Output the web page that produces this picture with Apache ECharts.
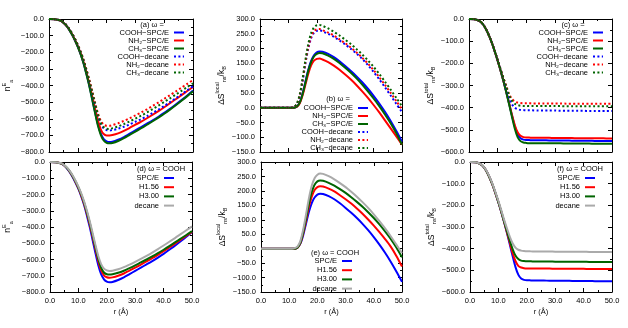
<!DOCTYPE html>
<html>
<head>
<meta charset="utf-8">
<script src="https://cdn.jsdelivr.net/npm/echarts@6/dist/echarts.min.js"></script>
<style>
html, body { margin: 0; padding: 0; background: #fff; }
#chart { width: 628px; height: 328px; }
</style>
</head>
<body>
<div id="chart"></div>
<script>
// r (Å) sample points shared by every curve
var R = [0, 2, 4, 5, 6, 7, 8, 9, 10, 11, 12, 13, 14, 15, 16, 17, 18, 19, 20, 21, 22,
  24, 26, 28, 30, 32, 34, 36, 38, 40, 42, 44, 46, 48, 50];

// n^E_a  (panels a, d)
var nE_COOH_spce = [0, -1, -10, -22, -40, -64, -94, -128, -166, -212, -265, -330, -400, -480, -560, -635, -690, -722, -736, -740, -738,
  -726, -710, -690, -670, -650, -630, -610, -588, -565, -540, -515, -488, -460, -430];
var nE_NH2_spce = [0, -1, -10, -22, -40, -63, -92, -126, -164, -208, -260, -322, -390, -465, -540, -610, -665, -692, -700, -700, -698,
  -688, -673, -655, -636, -617, -597, -576, -554, -531, -507, -483, -458, -433, -408];
var nE_CH3_spce = [0, -1, -10, -22, -40, -64, -94, -128, -167, -213, -267, -333, -404, -485, -566, -642, -698, -731, -745, -748, -746,
  -734, -717, -697, -677, -657, -636, -615, -593, -570, -545, -519, -492, -464, -434];
var nE_COOH_dec = [0, -1, -9, -20, -37, -59, -87, -120, -158, -200, -250, -310, -375, -445, -515, -580, -630, -658, -668, -670, -668,
  -660, -648, -634, -618, -602, -584, -565, -545, -523, -500, -477, -453, -429, -405];
var nE_NH2_dec = [0, -1, -9, -20, -37, -59, -86, -118, -155, -196, -245, -303, -366, -434, -503, -568, -613, -635, -642, -642, -638,
  -627, -613, -597, -580, -562, -543, -523, -502, -480, -458, -436, -413, -390, -367];
var nE_CH3_dec = [0, -1, -9, -20, -37, -59, -87, -119, -157, -198, -248, -307, -371, -440, -510, -576, -626, -651, -660, -661, -657,
  -646, -632, -616, -599, -581, -562, -542, -521, -499, -477, -455, -432, -409, -387];
var nE_H156 = [0, -1, -9, -21, -38, -61, -90, -123, -161, -205, -257, -318, -385, -460, -537, -610, -666, -697, -709, -712, -710,
  -700, -686, -668, -650, -631, -612, -592, -571, -549, -526, -502, -478, -454, -430];
var nE_H300 = [0, -1, -9, -20, -37, -59, -87, -120, -157, -200, -250, -310, -376, -450, -525, -596, -650, -680, -691, -693, -691,
  -682, -669, -653, -636, -618, -600, -581, -561, -540, -518, -495, -472, -449, -425];
var nE_dec = [0, -1, -8, -19, -35, -56, -83, -115, -151, -193, -242, -300, -365, -437, -510, -578, -628, -656, -667, -670, -669,
  -660, -647, -631, -614, -596, -577, -557, -536, -514, -491, -468, -444, -420, -396];

// ΔS^local_ns / k_B  (panels b, e)
var sL_COOH_spce = [0, 0, 0, 0, 0, 0, 0, 0, 0, 0, 0, 4, 18, 48, 88, 128, 158, 177, 187, 190, 189,
  182, 171, 157, 141, 124, 106, 86, 64, 40, 14, -14, -45, -79, -115];
var sL_NH2_spce = [0, 0, 0, 0, 0, 0, 0, 0, 0, 0, 0, 3, 15, 42, 78, 115, 143, 159, 165, 166, 163,
  154, 142, 128, 112, 95, 76, 55, 33, 9, -16, -43, -70, -97, -125];
var sL_CH3_spce = [0, 0, 0, 0, 0, 0, 0, 0, 0, 0, 0, 4, 17, 46, 85, 125, 154, 173, 182, 185, 184,
  176, 165, 151, 135, 118, 99, 78, 55, 31, 5, -23, -53, -87, -125];
var sL_COOH_dec = [0, 0, 0, 0, 0, 0, 0, 0, 0, 0, 2, 12, 40, 90, 150, 200, 235, 253, 260, 262, 258,
  250, 240, 227, 214, 199, 183, 165, 144, 121, 96, 69, 41, 13, -15];
var sL_NH2_dec = [0, 0, 0, 0, 0, 0, 0, 0, 0, 0, 2, 13, 42, 93, 154, 205, 240, 259, 265, 266, 262,
  254, 244, 231, 218, 203, 187, 169, 149, 127, 103, 77, 50, 22, -5];
var sL_CH3_dec = [0, 0, 0, 0, 0, 0, 0, 0, 0, 0, 2, 14, 45, 98, 162, 215, 252, 271, 279, 280, 277,
  268, 257, 244, 230, 215, 198, 180, 160, 138, 114, 88, 61, 33, 5];
var sL_H156 = [0, 0, 0, 0, 0, 0, 0, 0, 0, 0, 0, 4, 20, 54, 98, 145, 180, 203, 213, 216, 215,
  208, 198, 185, 171, 156, 139, 121, 101, 80, 57, 33, 7, -25, -62];
var sL_H300 = [0, 0, 0, 0, 0, 0, 0, 0, 0, 0, 0, 5, 22, 58, 106, 157, 196, 221, 233, 236, 235,
  228, 218, 206, 193, 178, 162, 145, 126, 106, 84, 60, 34, 4, -30];
var sL_dec = [0, 0, 0, 0, 0, 0, 0, 0, 0, 0, 2, 8, 28, 68, 120, 175, 218, 244, 256, 260, 259,
  251, 240, 227, 213, 197, 180, 161, 141, 119, 95, 70, 43, 14, -15];

// ΔS^total_ns / k_B  (panels c, f)
var sT_COOH_spce = [0, -1, -12, -26, -47, -75, -108, -146, -187, -231, -277, -327, -380, -434, -484, -520, -538, -544, -546, -546, -547,
  -547, -547, -548, -548, -548, -548, -549, -549, -549, -549, -550, -550, -550, -550];
var sT_NH2_spce = [0, -1, -12, -26, -47, -75, -108, -146, -187, -231, -277, -327, -379, -431, -478, -511, -527, -533, -535, -535, -536,
  -536, -536, -536, -537, -537, -537, -537, -538, -538, -538, -538, -538, -539, -539];
var sT_CH3_spce = [0, -1, -12, -26, -47, -75, -108, -146, -187, -231, -278, -329, -383, -440, -494, -533, -551, -557, -559, -560, -560,
  -560, -561, -561, -561, -561, -562, -562, -562, -562, -562, -563, -563, -563, -563];
var sT_COOH_dec = [0, -1, -12, -26, -47, -75, -107, -144, -184, -226, -267, -310, -352, -384, -400, -407, -410, -411, -412, -412, -412,
  -413, -413, -413, -413, -414, -414, -414, -414, -414, -415, -415, -415, -415, -415];
var sT_NH2_dec = [0, -1, -12, -26, -47, -75, -107, -144, -184, -225, -264, -301, -337, -360, -372, -377, -379, -380, -380, -380, -381,
  -381, -381, -381, -381, -381, -382, -382, -382, -382, -382, -382, -382, -382, -382];
var sT_CH3_dec = [0, -1, -12, -26, -47, -75, -107, -144, -184, -225, -265, -304, -343, -368, -382, -388, -391, -392, -392, -393, -393,
  -393, -393, -393, -393, -393, -394, -394, -394, -394, -394, -394, -394, -394, -394];
var sT_H156 = [0, -1, -12, -26, -47, -75, -108, -146, -186, -230, -276, -324, -372, -420, -457, -479, -487, -490, -491, -491, -492,
  -492, -492, -492, -493, -493, -493, -493, -493, -493, -494, -494, -494, -494, -494];
var sT_H300 = [0, -1, -12, -26, -47, -75, -107, -145, -185, -228, -274, -318, -362, -402, -432, -448, -455, -457, -458, -458, -459,
  -459, -459, -459, -460, -460, -460, -460, -460, -460, -461, -461, -461, -461, -461];
var sT_dec = [0, -1, -11, -25, -45, -72, -104, -141, -180, -222, -266, -306, -344, -375, -395, -405, -409, -411, -412, -412, -413,
  -413, -413, -413, -414, -414, -414, -414, -414, -414, -415, -415, -415, -415, -415];

var BLUE = '#0000ff', RED = '#ff0000', GREEN = '#006400', GRAY = '#aaaaaa';
var FONT = 'Liberation Sans';
var FS = 7.5;

var NAME_NE = '{n|n}{sup|E}{sub|a}';
var NAME_SL = '{n|ΔS}{sup|local}{sub|ns}{n|/k}{sub|B}';
var NAME_ST = '{n|ΔS}{sup|total}{sub|ns}{n|/k}{sub|B}';

var topKeys = ['COOH\u2212SPC/E', 'NH\u2082\u2212SPC/E', 'CH\u2083\u2212SPC/E',
  'COOH\u2212decane', 'NH\u2082\u2212decane', 'CH\u2083\u2212decane'];
var botKeys = ['SPC/E', 'H1.56', 'H3.00', 'decane'];

var panels = [
  { grid: { left: 49, top: 19, width: 144, height: 133 }, y: [-800, 0, 100], yName: NAME_NE, gap: 35, bottom: false,
    head: { text: '(a) \u03c9 =', x: 152, y: 25 }, key: { right: 443, top: 28.5, gap: 0 },
    lines: [[nE_COOH_spce, BLUE, 0], [nE_NH2_spce, RED, 0], [nE_CH3_spce, GREEN, 0],
            [nE_COOH_dec, BLUE, 1], [nE_NH2_dec, RED, 1], [nE_CH3_dec, GREEN, 1]] },
  { grid: { left: 260, top: 19, width: 142, height: 133 }, y: [-150, 300, 50], yName: NAME_SL, gap: 28, bottom: false,
    head: { text: '(b) \u03c9 =', x: 338, y: 99 }, key: { right: 259, top: 104, gap: 0 },
    lines: [[sL_COOH_spce, BLUE, 0], [sL_NH2_spce, RED, 0], [sL_CH3_spce, GREEN, 0],
            [sL_COOH_dec, BLUE, 1], [sL_NH2_dec, RED, 1], [sL_CH3_dec, GREEN, 1]] },
  { grid: { left: 469, top: 19, width: 143, height: 133 }, y: [-600, 0, 100], yName: NAME_ST, gap: 28, bottom: false,
    head: { text: '(c) \u03c9 =', x: 573, y: 25 }, key: { right: 24, top: 28.5, gap: 0 },
    lines: [[sT_COOH_spce, BLUE, 0], [sT_NH2_spce, RED, 0], [sT_CH3_spce, GREEN, 0],
            [sT_COOH_dec, BLUE, 1], [sT_NH2_dec, RED, 1], [sT_CH3_dec, GREEN, 1]] },
  { grid: { left: 50, top: 162, width: 142, height: 130 }, y: [-800, 0, 100], yName: NAME_NE, gap: 36, bottom: true,
    head: { text: '(d) \u03c9 = COOH', x: 161, y: 169 }, key: { right: 453, top: 174, gap: 1.2 },
    lines: [[nE_COOH_spce, BLUE, 0], [nE_H156, RED, 0], [nE_H300, GREEN, 0], [nE_dec, GRAY, 0]] },
  { grid: { left: 261, top: 162, width: 141, height: 130 }, y: [-150, 300, 50], yName: NAME_SL, gap: 28, bottom: true,
    head: { text: '(e) \u03c9 = COOH', x: 335, y: 253 }, key: { right: 275, top: 257, gap: 1.2 },
    lines: [[sL_COOH_spce, BLUE, 0], [sL_H156, RED, 0], [sL_H300, GREEN, 0], [sL_dec, GRAY, 0]] },
  { grid: { left: 470, top: 162, width: 142, height: 130 }, y: [-600, 0, 100], yName: NAME_ST, gap: 28, bottom: true,
    head: { text: '(f) \u03c9 = COOH', x: 580, y: 169 }, key: { right: 32, top: 174, gap: 1.2 },
    lines: [[sT_COOH_spce, BLUE, 0], [sT_H156, RED, 0], [sT_H300, GREEN, 0], [sT_dec, GRAY, 0]] }
];

function pts(ys) {
  return R.map(function (r, i) { return [r, ys[i]]; });
}

function fmt(v) {
  var s = Math.abs(v).toFixed(1);
  return v < 0 ? '\u2212' + s : s;
}

var txt = { fontSize: FS, fontFamily: FONT, color: '#000' };
var richName = {
  n: { fontSize: 8.5, fontFamily: FONT, color: '#000', lineHeight: 13 },
  sup: { fontSize: 5.5, fontFamily: FONT, color: '#000', lineHeight: 13, verticalAlign: 'top' },
  sub: { fontSize: 5.5, fontFamily: FONT, color: '#000', lineHeight: 13, verticalAlign: 'bottom' }
};

function axisBase(min, max, step, gi, pos, label) {
  return {
    gridIndex: gi, type: 'value', position: pos, min: min, max: max, interval: step,
    axisLine: { show: true, onZero: false, lineStyle: { color: '#000', width: 1 } },
    axisTick: { show: true, inside: true, length: 4, lineStyle: { color: '#000' } },
    minorTick: { show: true, splitNumber: 2, length: 2, lineStyle: { color: '#000' } },
    splitLine: { show: false },
    axisLabel: { show: label, formatter: fmt, margin: 5, fontSize: FS, fontFamily: FONT, color: '#000' }
  };
}

var option = {
  animation: false,
  backgroundColor: '#fff',
  grid: [], xAxis: [], yAxis: [], series: [], legend: [], graphic: []
};

panels.forEach(function (p, gi) {
  option.grid.push(p.grid);

  var xb = axisBase(0, 50, 10, gi, 'bottom', p.bottom);
  if (p.bottom) {
    xb.name = 'r (\u00c5)';
    xb.nameLocation = 'middle';
    xb.nameGap = 16;
    xb.nameTextStyle = txt;
  }
  option.xAxis.push(xb);
  option.xAxis.push(axisBase(0, 50, 10, gi, 'top', false));

  var yl = axisBase(p.y[0], p.y[1], p.y[2], gi, 'left', true);
  yl.name = p.yName;
  yl.nameLocation = 'middle';
  yl.nameRotate = 90;
  yl.nameGap = p.gap;
  yl.nameTextStyle = { rich: richName };
  option.yAxis.push(yl);
  option.yAxis.push(axisBase(p.y[0], p.y[1], p.y[2], gi, 'right', false));

  var keys = p.lines.length === 6 ? topKeys : botKeys;
  p.lines.forEach(function (l, k) {
    option.series.push({
      name: keys[k], type: 'line', xAxisIndex: gi * 2, yAxisIndex: gi * 2,
      data: pts(l[0]), symbol: 'none', smooth: 0.3,
      lineStyle: { color: l[1], width: 2, type: l[2] ? [2, 2.4] : 'solid', cap: 'butt' },
      itemStyle: { color: l[1] }
    });
  });

  // gnuplot-style key: text right-aligned, line sample after it, no marker
  option.legend.push({
    orient: 'vertical', align: 'right', right: p.key.right, top: p.key.top,
    padding: 0, itemGap: p.key.gap, itemWidth: 10, itemHeight: 6,
    selectedMode: false, data: keys,
    itemStyle: { opacity: 0, borderWidth: 0 },
    textStyle: { fontSize: FS, fontFamily: FONT, color: '#000', lineHeight: 7.4 }
  });

  option.graphic.push({
    type: 'text', x: p.head.x, y: p.head.y,
    style: { text: p.head.text, align: 'center', verticalAlign: 'middle', fontSize: FS, fontFamily: FONT, fill: '#000' }
  });
});

var myChart = echarts.init(document.getElementById('chart'));
myChart.setOption(option);
</script>
</body>
</html>
